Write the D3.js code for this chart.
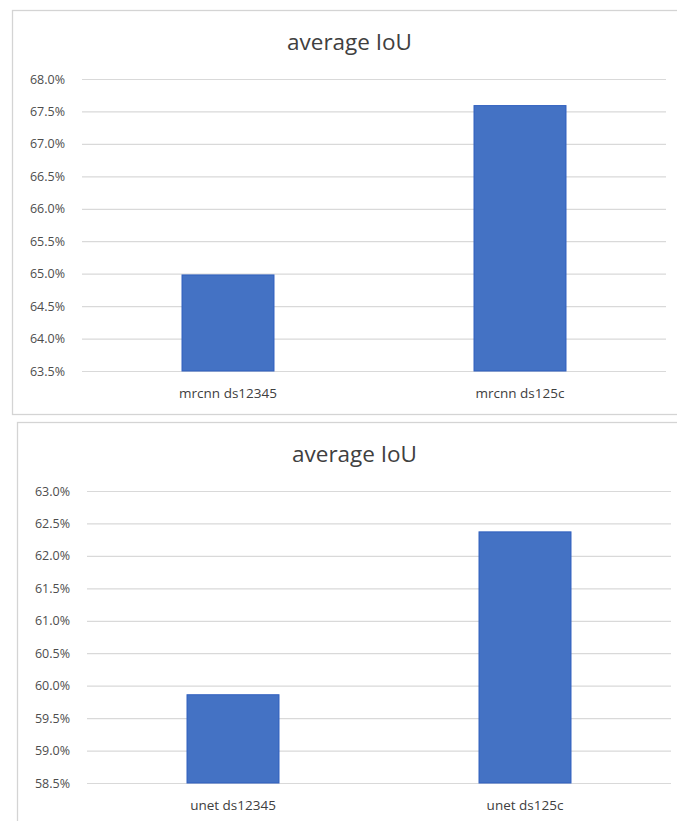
<!DOCTYPE html>
<html>
<head>
<meta charset="utf-8">
<script src="https://cdn.jsdelivr.net/npm/d3@7"></script>
<style>
  body { margin:0; background:#ffffff; }
  svg { display:block; }
  text { font-family: "Open Sans", "Noto Sans", sans-serif; }
</style>
</head>
<body>
<script>
// chart data
var chartTitle = "average IoU";

var topCategories = ["mrcnn ds12345", "mrcnn ds125c"];
var topValues = [0.6498, 0.6759];
var topTicks = [0.635, 0.64, 0.645, 0.65, 0.655, 0.66, 0.665, 0.67, 0.675, 0.68];

var bottomCategories = ["unet ds12345", "unet ds125c"];
var bottomValues = [0.5986, 0.6237];
var bottomTicks = [0.585, 0.59, 0.595, 0.60, 0.605, 0.61, 0.615, 0.62, 0.625, 0.63];

var svg = d3.select("body").append("svg").attr("width", 677).attr("height", 821);

function render(categories, values, ticks, box) {
    var g = svg.append("g");

    // chart frame (runs past the window on the right)
    g.append("rect")
        .attr("x", box.left + 0.5)
        .attr("y", box.top + 0.5)
        .attr("width", 675)
        .attr("height", box.h)
        .attr("fill", "#ffffff")
        .attr("stroke", "#d4d4d4")
        .attr("stroke-width", 1.3);

    var plotL = box.left + 70;
    var plotR = box.left + 654;
    var plotT = box.top + 69;
    var plotB = box.top + 361;

    var xScale = d3.scaleBand()
        .domain(categories)
        .range([plotL, plotR])
        .paddingInner(0.685)
        .paddingOuter(0.685 / 2);

    var yScale = d3.scaleLinear()
        .domain([ticks[0], ticks[ticks.length - 1]])
        .range([plotB, plotT]);

    var yAxis = d3.axisLeft(yScale)
        .tickValues(ticks)
        .tickSize(-(plotR - plotL))
        .tickPadding(17)
        .tickFormat(d3.format(".1%"));

    var yAxisG = g.append("g")
        .attr("class", "y axis")
        .attr("transform", "translate(" + plotL + ",0)")
        .call(yAxis);
    yAxisG.select(".domain").remove();
    yAxisG.selectAll("line").attr("stroke", "#d9d9d9").attr("stroke-width", 1.2);
    yAxisG.selectAll("text")
        .attr("fill", "#4d4d4d")
        .style("font-size", "12.5px");

    g.selectAll("rect.bar").data(values)
        .enter()
        .append("rect")
        .attr("class", "bar")
        .attr("x", function(d, i) { return xScale(categories[i]); })
        .attr("width", xScale.bandwidth())
        .attr("y", function(d) { return yScale(d); })
        .attr("height", function(d) { return plotB - yScale(d); })
        .attr("fill", "#4472c4")
        .attr("stroke", "#2f5fbf")
        .attr("stroke-width", 1);

    var xAxis = d3.axisBottom(xScale).tickSize(0).tickPadding(17);
    var xAxisG = g.append("g")
        .attr("class", "x axis")
        .attr("transform", "translate(0," + plotB + ")")
        .call(xAxis);
    xAxisG.select(".domain").remove();
    xAxisG.selectAll("text")
        .attr("fill", "#404040")
        .style("font-size", "13.5px");

    g.append("text")
        .attr("x", box.left + 337.5)
        .attr("y", box.top + 40)
        .attr("text-anchor", "middle")
        .attr("fill", "#404040")
        .style("font-size", "22.5px")
        .text(chartTitle);
}

render(topCategories, topValues, topTicks, {left: 12, top: 10, h: 404});
render(bottomCategories, bottomValues, bottomTicks, {left: 17, top: 422, h: 420});
</script>
</body>
</html>
